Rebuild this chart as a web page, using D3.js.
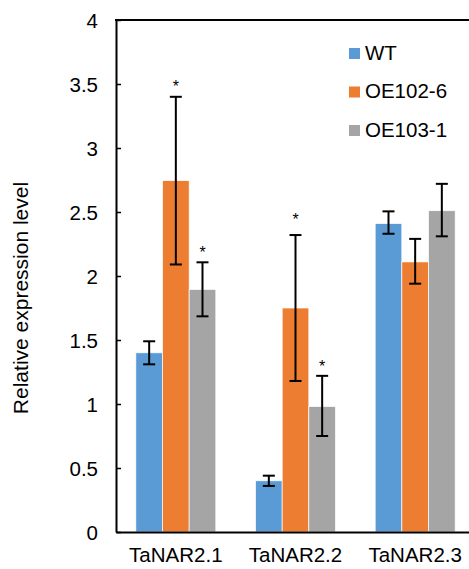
<!DOCTYPE html>
<html><head><meta charset="utf-8">
<script src="https://cdn.jsdelivr.net/npm/d3@7"></script>
<style>body{margin:0;background:#fff}svg{display:block}</style>
</head><body>
<script>
const categories = ["TaNAR2.1", "TaNAR2.2", "TaNAR2.3"];
const series = ["WT", "OE102-6", "OE103-1"];
const colors = ["#5B9BD5", "#ED7D31", "#A5A5A5"];
const values = [
  [1.40, 0.40, 2.41],   // WT
  [2.745, 1.75, 2.11],  // OE102-6
  [1.895, 0.98, 2.51]   // OE103-1
];
const errLow = [
  [1.31, 0.36, 2.33],
  [2.09, 1.18, 1.94],
  [1.685, 0.75, 2.31]
];
const errHigh = [
  [1.49, 0.44, 2.505],
  [3.40, 2.32, 2.29],
  [2.107, 1.22, 2.72]
];
// significance stars: [seriesIndex, categoryIndex, level]
const stars = [[1, 0, 3.51], [2, 0, 2.21], [1, 1, 2.47], [2, 1, 1.32]];
const yTicks = [0, 0.5, 1, 1.5, 2, 2.5, 3, 3.5, 4];
const yTitle = "Relative expression level";

(function () {
const W = 469, H = 569;
const mLeft = 116, mRight = 475, mTop = 20, mBottom = 532;
const font = "'Liberation Sans', Arial, sans-serif";

const svg = d3.select("body").append("svg").attr("width", W).attr("height", H);

const y = d3.scaleLinear().domain([0, 4]).range([mBottom, mTop]);
const x0 = d3.scaleBand().domain(categories).range([mLeft, mRight]).padding(0);
const x1 = d3.scaleBand().domain(series).range([0, x0.bandwidth()]).paddingInner(0).paddingOuter(0.744);

// bars
series.forEach((s, si) => {
  const g = svg.append("g");
  g.selectAll("rect").data(categories).join("rect")
    .attr("x", c => x0(c) + x1(s))
    .attr("width", x1.bandwidth())
    .attr("y", (c, ci) => y(values[si][ci]))
    .attr("height", (c, ci) => y(0) - y(values[si][ci]))
    .attr("fill", colors[si])
    .attr("stroke", "#fff").attr("stroke-width", 0.7);
});

// error bars
series.forEach((s, si) => {
  categories.forEach((c, ci) => {
    const cx = x0(c) + x1(s) + x1.bandwidth() / 2;
    const g = svg.append("g").attr("stroke", "#000").attr("stroke-width", 2);
    g.append("line").attr("x1", cx).attr("x2", cx).attr("y1", y(errLow[si][ci])).attr("y2", y(errHigh[si][ci]));
    [errLow[si][ci], errHigh[si][ci]].forEach(v => {
      g.append("line").attr("x1", cx - 6).attr("x2", cx + 6).attr("y1", y(v)).attr("y2", y(v));
    });
  });
});

// stars
svg.selectAll("text.star").data(stars).join("text").attr("class", "star")
  .attr("x", d => x0(categories[d[1]]) + x1(series[d[0]]) + x1.bandwidth() / 2)
  .attr("y", d => y(d[2]) + 9)
  .attr("text-anchor", "middle")
  .attr("font-family", font).attr("font-size", 16)
  .text("*");

// axes frame
const yAxis = d3.axisLeft(y).tickValues(yTicks).tickSize(-5).tickSizeOuter(0)
  .tickFormat(d => String(d)).tickPadding(18);
const ga = svg.append("g").attr("transform", `translate(${mLeft},0)`).call(yAxis);
ga.select(".domain").attr("stroke", "#000").attr("stroke-width", 2);
ga.selectAll(".tick line").attr("stroke", "#000").attr("stroke-width", 1.5);
ga.selectAll(".tick text").attr("font-family", font).attr("font-size", 20.5).attr("fill", "#000")
  .attr("dy", "0.35em");

svg.append("line").attr("x1", mLeft - 1).attr("x2", W).attr("y1", mTop).attr("y2", mTop)
  .attr("stroke", "#000").attr("stroke-width", 2);

const xAxis = d3.axisBottom(x0).tickSize(0).tickPadding(20);
const gx = svg.append("g").attr("transform", `translate(0,${mBottom})`).call(xAxis);
gx.select(".domain").attr("stroke", "#000").attr("stroke-width", 2.2);
gx.selectAll(".tick text").attr("font-family", font).attr("font-size", 20.5).attr("fill", "#000")
  .attr("y", 30).attr("dy", 0);

// y title
svg.append("text")
  .attr("transform", `translate(28,298) rotate(-90)`)
  .attr("text-anchor", "middle")
  .attr("font-family", font).attr("font-size", 21)
  .text(yTitle);

// legend
const leg = svg.append("g");
series.forEach((s, i) => {
  const by = 59.5 + i * 38.5;
  leg.append("rect").attr("x", 349).attr("y", by - 11.5).attr("width", 11).attr("height", 11).attr("fill", colors[i]);
  leg.append("text").attr("x", 365).attr("y", by).attr("font-family", font).attr("font-size", 20.5).text(s);
});
})();
</script>
</body></html>
